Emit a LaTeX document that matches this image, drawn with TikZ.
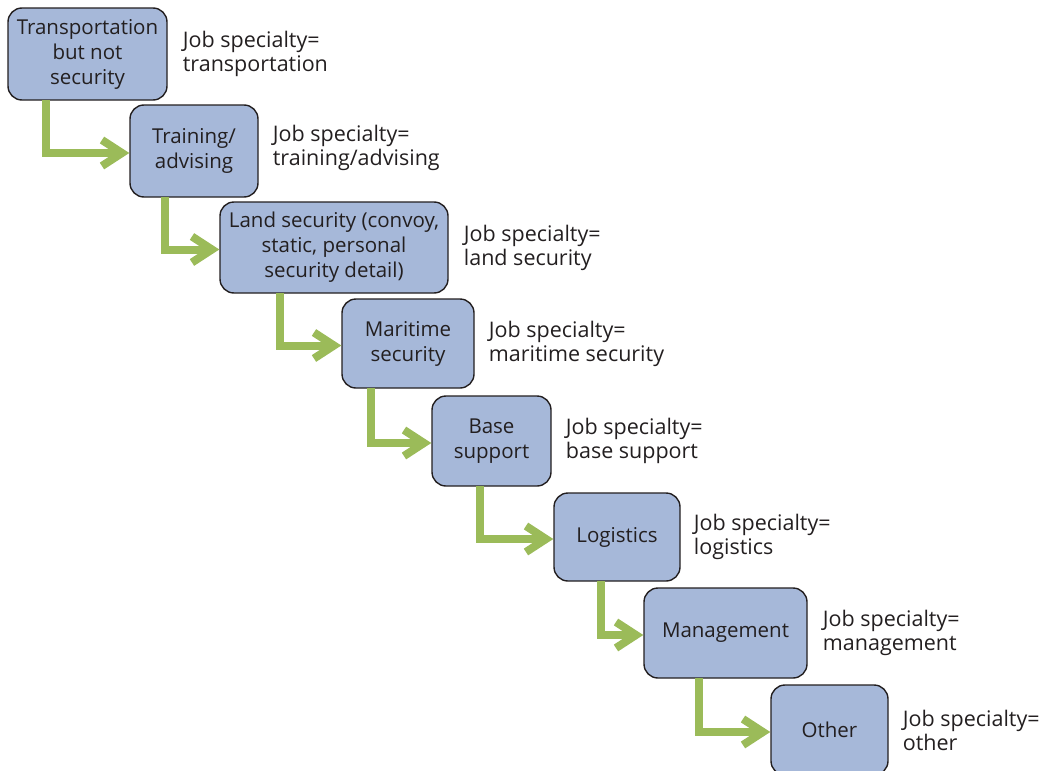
\documentclass[tikz,border=0pt]{standalone}
\usepackage{fontspec}
\setmainfont{Open Sans}
\usetikzlibrary{arrows.meta}

\definecolor{boxblue}{HTML}{A6B8D9}
\definecolor{flowgreen}{HTML}{9BBB59}
\definecolor{inkgray}{HTML}{231F20}

\tikzset{
  jobbox/.style={draw=inkgray, line width=1.4pt, fill=boxblue, rounded corners=14pt,
    align=center, inner sep=0pt, text=inkgray,
    font=\fontsize{20.5}{25}\selectfont},
  joblabel/.style={anchor=west, align=left, inner sep=0pt, text=inkgray,
    font=\fontsize{21.5}{24}\selectfont},
  flow/.style={draw=flowgreen, line width=8pt,
    -{Straight Barb[sharp, length=20pt, width=26pt]}}
}

\begin{document}
\begin{tikzpicture}[x=1pt,y=-1pt]
	\useasboundingbox (0,0) rectangle (1047,771);

	% boxes
	\node[jobbox, minimum width=159pt, minimum height=92pt] (b1) at (87.5,54) {Transportation\\but not\\security};
	\node[jobbox, minimum width=128pt, minimum height=92pt] (b2) at (194,151) {Training/\\advising};
	\node[jobbox, minimum width=228pt, minimum height=91pt] (b3) at (334,247.5) {Land security (convoy,\\static, personal\\security detail)};
	\node[jobbox, minimum width=132pt, minimum height=89pt] (b4) at (408,343.5) {Maritime\\security};
	\node[jobbox, minimum width=119pt, minimum height=90pt] (b5) at (491.5,441) {Base\\support};
	\node[jobbox, minimum width=126pt, minimum height=88pt] (b6) at (617,537) {Logistics};
	\node[jobbox, minimum width=163pt, minimum height=90pt] (b7) at (725.5,633) {Management};
	\node[jobbox, minimum width=117pt, minimum height=90pt] (b8) at (829.5,730) {Other};

	% labels
	\node[joblabel, xshift=15pt] (l1) at (b1.east) {Job specialty=\\transportation};
	\node[joblabel, xshift=14pt, yshift=3pt] (l2) at (b2.east) {Job specialty=\\training/advising};
	\node[joblabel, xshift=15pt] (l3) at (b3.east) {Job specialty=\\land security};
	\node[joblabel, xshift=14pt] (l4) at (b4.east) {Job specialty=\\maritime security};
	\node[joblabel, xshift=14pt] (l5) at (b5.east) {Job specialty=\\base support};
	\node[joblabel, xshift=13pt] (l6) at (b6.east) {Job specialty=\\logistics};
	\node[joblabel, xshift=15pt] (l7) at (b7.east) {Job specialty=\\management};
	\node[joblabel, xshift=14pt] (l8) at (b8.east) {Job specialty=\\other};

	% arrows
	\foreach \a/\b/\o in {b1/b2/39, b2/b3/36, b3/b4/61, b4/b5/30, b5/b6/49, b6/b7/48, b7/b8/56} {
	     \draw[flow] ([xshift=\o pt, yshift=0.7pt]\a.south west) |- ([yshift=-2pt]\b.west);
	}
\end{tikzpicture}
\end{document}
